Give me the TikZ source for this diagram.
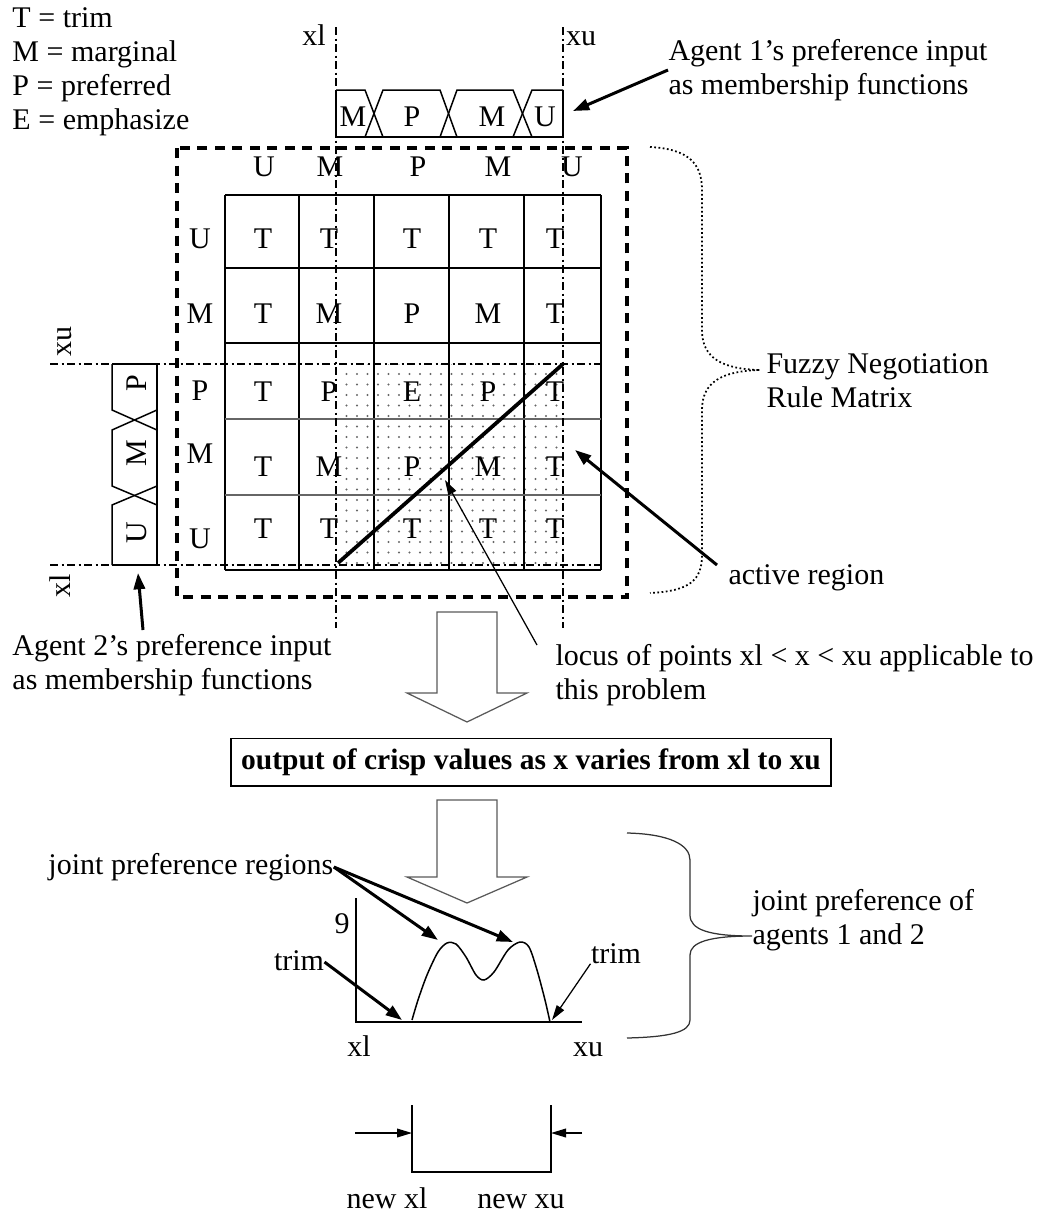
\documentclass[tikz,border=0pt]{standalone}
\usepackage{fontspec}
\setmainfont{Liberation Serif}
\usetikzlibrary{arrows.meta,patterns.meta}
\tikzset{
  txt/.style={inner sep=0pt,font=\fontsize{12}{13.6}\selectfont},
  lbl/.style={txt,text height=0.66em,text depth=0pt},
  lbltwo/.style={txt,align=left,anchor=west},
  dashdot/.style={line width=0.9pt,dash pattern=on 3.2pt off 1.4pt on 0.8pt off 1.4pt},
  fatarrow/.style={draw=black!65,line width=0.5pt},
  callout/.style={line width=1.2pt,-{Triangle[length=6.5pt,width=4.5pt]}},
  thincallout/.style={line width=0.5pt,-{Triangle[length=6pt,width=3.5pt]}},
  >=Stealth
}
\begin{document}
\begin{tikzpicture}[x=0.4pt,y=-0.4pt]
  \useasboundingbox (0,0) rectangle (1037,1214);
  % legend and captions
  \node[lbltwo] (legend) at (12,72) {T = trim\\M = marginal\\P = preferred\\E = emphasize};
  \node[lbltwo] (agent1) at (668,70) {Agent 1's preference input\\as membership functions};
  \node[lbltwo] (agent2) at (12,665) {Agent 2's preference input\\as membership functions};
  \node[lbltwo] (fuzzy) at (766,381) {Fuzzy Negotiation\\Rule Matrix};
  \node[lbltwo] (active) at (728,578) {active region};
  \node[lbltwo] (locus) at (555,675) {locus of points xl < x < xu applicable to\\this problem};
  \node[lbl] (xlt) at (314,37) {xl};
  \node[lbl] (xut) at (581,37) {xu};
  \node[lbl,rotate=90] (xul) at (63,341) {xu};
  \node[lbl,rotate=90] (xll) at (62,586) {xl};

  % active region
  \fill[pattern={Dots[distance=4.2pt,radius=0.45pt]},pattern color=black!60] (338,364) rectangle (563,563);
  % rule matrix grid
  \foreach \xx in {225,299,374,449,524,601} \draw[line width=0.5pt] (\xx,195) -- (\xx,570);
  \foreach \yy/\cl in {195/black,268/black,343/black,419/black!60,495/black!60,570/black}
    \draw[line width=0.5pt,draw=\cl] (225,\yy) -- (601,\yy);
  \foreach \xx/\t [count=\c] in {264/U,330/M,418/P,498/M,572/U}
    \node[lbl] (ch\c) at (\xx,168) {\t};
  \foreach \ya/\yh/\ra/\ca/\cb/\cc/\cd/\ce [count=\r] in
      {240/240/U/T/T/T/T/T, 315/315/M/T/M/P/M/T, 393/392/P/T/P/E/P/T,
       468/455/M/T/M/P/M/T, 530/540/U/T/T/T/T/T} {
    \node[lbl] (rh\r) at (200,\yh) {\ra};
    \foreach \xx/\t [count=\c] in {263/\ca,329/\cb,412/\cc,488/\cd,555/\ce}
      \node[lbl] (m\r\c) at (\xx,\ya) {\t};
  }
  \draw[line width=1.3pt,dash pattern=on 4pt off 3pt] (177,148) rectangle (627,597);

  % xl / xu limits
  \draw[dashdot] (336,27) -- (336,628);
  \draw[dashdot] (563,27) -- (563,628);
  \draw[dashdot] (50,364) -- (601,364);
  \draw[dashdot] (50,565) -- (601,565);
  \draw[line width=1.5pt] (338,563) -- (563,364);

  % agent 1 membership functions
  \begin{scope}[line width=0.6pt]
    \draw (336,90) -- (336,137) -- (563,137) -- (563,90);
    \draw (336,90) -- (365,90) -- (383,137);
    \draw (365,137) -- (383,90) -- (440,90) -- (457,137);
    \draw (440,137) -- (457,90) -- (513,90) -- (532,137);
    \draw (513,137) -- (532,90) -- (563,90);
  \end{scope}
  \foreach \xx/\t [count=\c] in {353/M,412/P,492/M,545/U}
    \node[lbl] (mf1\c) at (\xx,118) {\t};

  % agent 2 membership functions
  \begin{scope}[line width=0.6pt]
    \draw (112,364) -- (157,364) -- (157,565) -- (112,565);
    \draw (112,364) -- (112,410) -- (157,430);
    \draw (157,410) -- (112,430) -- (112,486) -- (157,505);
    \draw (157,486) -- (112,505) -- (112,565);
  \end{scope}
  \foreach \yy/\t [count=\c] in {383/P,453/M,533/U}
    \node[lbl,rotate=90] (mf2\c) at (138,\yy) {\t};

  % braces
  \draw[densely dotted,line width=0.7pt] (650,147) .. controls (690,149) and (702,165) .. (702,190)
    -- (702,330) .. controls (702,358) and (722,369) .. (760,370)
    .. controls (722,371) and (702,382) .. (702,410) -- (702,555)
    .. controls (702,580) and (690,591) .. (650,593);

  % callouts
  \coordinate (a1tip) at (573,111);
  \coordinate (a2tail) at (143,630);
  \coordinate (a2tip) at (138,573);
  \coordinate (actail) at (717,565);
  \coordinate (actip) at (575,450);
  \coordinate (lotail) at (537,645);
  \coordinate (lotip) at (445,480);
  \draw[callout] (agent1.west) -- (a1tip);
  \draw[callout] (a2tail) -- (a2tip);
  \draw[callout] (actail) -- (actip);
  \draw[thincallout] (lotail) -- (lotip);

  % crisp output
  \draw[fatarrow] (437,612) -- (497,612) -- (497,693) -- (527,693) -- (467,722) -- (407,693) -- (437,693) -- cycle;
  \node[txt,draw,line width=0.6pt,minimum width=240pt,minimum height=19pt,
        font=\fontsize{11.8}{13.6}\selectfont\bfseries] (crisp) at (531,762)
        {output of crisp values as x varies from xl to xu};
  \draw[fatarrow] (437,800) -- (497,800) -- (497,877) -- (527,877) -- (467,903) -- (407,877) -- (437,877) -- cycle;

  % joint preference graph
  \draw[line width=0.6pt] (356,898) -- (356,1022) -- (582,1022);
  \draw[line width=0.6pt] plot[smooth] coordinates {(412,1020) (418,1000) (427,975) (438,952) (447,943)
    (456,944) (466,957) (476,975) (484,980) (494,972) (508,950) (520,942) (529,947) (537,970)
    (545,1000) (550,1022)};
  \node[lbl] (nine) at (342,925) {9};
  \node[lbl] (xlb) at (359,1048) {xl};
  \node[lbl] (xub) at (588,1048) {xu};
  \node[lbltwo] (jpr) at (48,867) {joint preference regions};
  \node[lbl] (trimL) at (299,962) {trim};
  \node[lbl] (trimR) at (616,955) {trim};
  \node[lbltwo] (jointof) at (752,920) {joint preference of\\agents 1 and 2};
  \coordinate (peak1) at (438,940);
  \coordinate (peak2) at (513,942);
  \coordinate (footL) at (402,1020);
  \coordinate (footR) at (552,1020);
  \draw[callout] (jpr.east) -- (peak1);
  \draw[callout] (jpr.east) -- (peak2);
  \draw[callout] (trimL.east) -- (footL);
  \draw[thincallout] (trimR.south west) -- (footR);
  \draw[line width=0.5pt,black!80] (627,833) .. controls (670,834) and (690,845) .. (690,860)
    -- (690,915) .. controls (690,930) and (710,936) .. (752,936)
    .. controls (710,936) and (690,942) .. (690,955) -- (690,1020)
    .. controls (690,1032) and (670,1037) .. (627,1038);

  % new limits
  \coordinate (newl) at (412,1133);
  \coordinate (newu) at (551,1133);
  \coordinate (newltail) at (355,1133);
  \coordinate (newutail) at (582,1133);
  \draw[line width=0.6pt] (412,1105) -- (412,1172) -- (551,1172) -- (551,1105);
  \draw[thincallout] (newltail) -- (newl);
  \draw[thincallout] (newutail) -- (newu);
  \node[lbl] (newxl) at (387,1200) {new xl};
  \node[lbl] (newxu) at (521,1200) {new xu};
\end{tikzpicture}
\end{document}
